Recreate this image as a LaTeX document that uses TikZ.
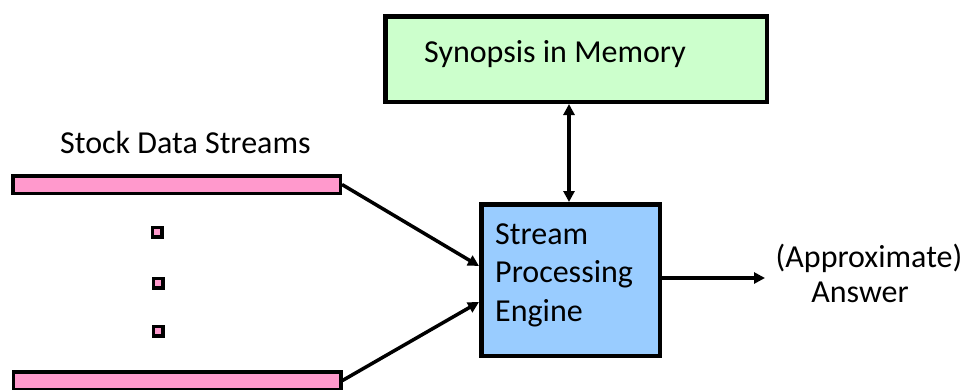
\documentclass[tikz,border=0pt]{standalone}
\usepackage{fontspec}
\setmainfont{Carlito}
\usetikzlibrary{arrows.meta}
\definecolor{synfill}{HTML}{CCFFCC}
\definecolor{engfill}{HTML}{99CCFF}
\definecolor{strfill}{HTML}{FF99CC}
\begin{document}
\begin{tikzpicture}[x=1pt,y=-1pt,
  box/.style={draw=black, line width=4.5pt, inner sep=0pt, minimum width=#1},
  bar/.style={draw=black, fill=strfill, line width=3.5pt, inner sep=0pt, minimum width=327.5pt, minimum height=17.5pt},
  dotsq/.style={draw=black, fill=strfill, line width=3.5pt, inner sep=0pt, minimum size=9.5pt},
  txt/.style={font=\fontsize{32}{38.5}\selectfont, inner sep=0pt},
  tip/.tip={Triangle[length=11pt,width=11pt]},
  conn/.style={line width=3.5pt, -tip}]
\useasboundingbox (0,0) rectangle (965,389);
\clip (0,0) rectangle (965,389);
\node[box=381.5pt, minimum height=85.5pt, fill=synfill] (syn) at (576,59) {};
\node[txt, anchor=base west] (syntxt) at (424,62) {Synopsis in Memory};
\node[box=178.5pt, minimum height=151.5pt, fill=engfill] (eng) at (570.5,280) {};
\node[txt, anchor=base west] (e1) at (495,244) {Stream};
\node[txt, anchor=base west] (e2) at (495,282) {Processing};
\node[txt, anchor=base west] (e3) at (495,321) {Engine};
\node[txt, anchor=base west] (stock) at (60,153) {Stock Data Streams};
\node[bar] (bar1) at (176.5,184.5) {};
\node[bar] (bar2) at (177,380.5) {};
\node[dotsq] (d1) at (157,232) {};
\node[dotsq] (d2) at (158,283) {};
\node[dotsq] (d3) at (158,331) {};
\node[txt, anchor=base] (ans1) at (869,267) {(Approximate)};
\node[txt, anchor=base] (ans2) at (860,302) {Answer};
\coordinate (ansin) at (765,278);
\draw[conn] (bar1.east) -- ([yshift=14pt]eng.west);
\draw[conn] (bar2.east) -- ([yshift=-22pt]eng.west);
\draw[line width=3.5pt, tip-tip] (eng.north -| 569,0) -- (syn.south -| 569,0);
\draw[conn] (eng.east |- ansin) -- (ansin);
\end{tikzpicture}
\end{document}
